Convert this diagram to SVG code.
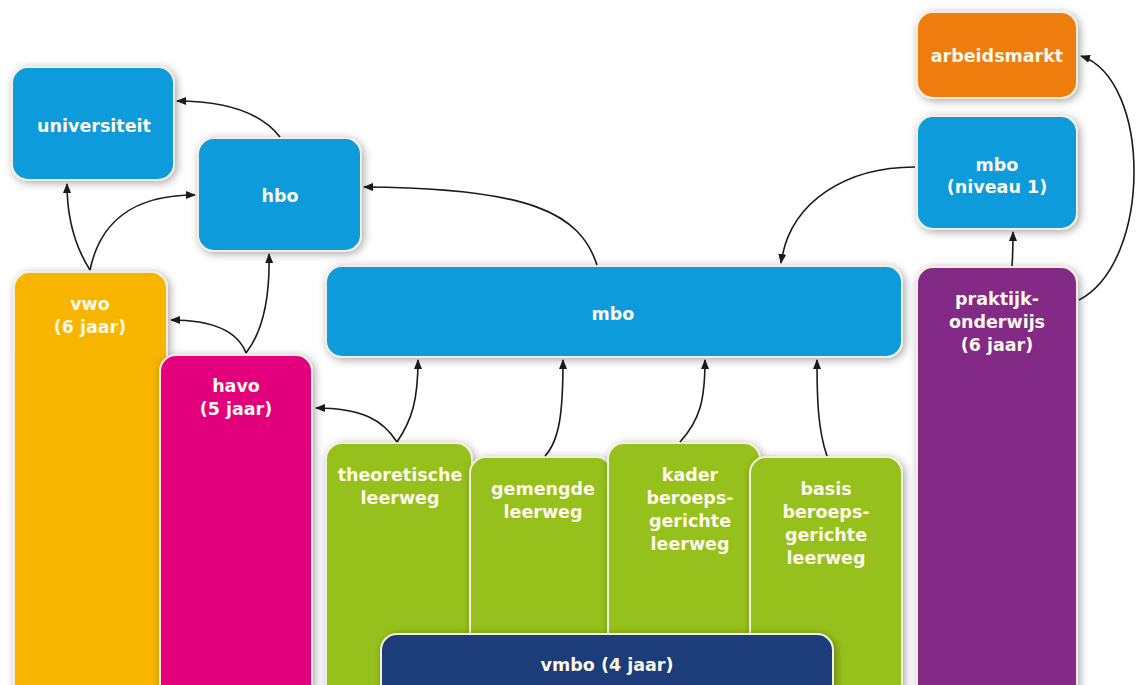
<svg xmlns="http://www.w3.org/2000/svg" width="1142" height="685" viewBox="0 0 1142 685">
<defs>
<filter id="sh" x="-20%" y="-20%" width="140%" height="140%">
<feDropShadow dx="2" dy="2" stdDeviation="4" flood-color="#000" flood-opacity="0.35"/>
</filter>
<marker id="ah" markerWidth="10" markerHeight="8" refX="9" refY="4" orient="auto" markerUnits="userSpaceOnUse">
<path d="M0,0 L10,4 L0,8 Z" fill="#1a1a1a"/>
</marker>
</defs>
<style>
.box{stroke:#f4efdc;stroke-width:2;filter:url(#sh)}
.blue{fill:#079bdc}
.orange{fill:#ee7d11}
.yellow{fill:#f7b500}
.pink{fill:#e3007b}
.purple{fill:#832a87}
.green{fill:#96c11f}
.navy{fill:#1b3d7a}
text{font-family:"DejaVu Sans",Verdana,sans-serif;font-weight:bold;font-size:17.5px;fill:#fdf8ea;text-anchor:middle}
.c path{fill:none;stroke:#1a1a1a;stroke-width:1.6;marker-end:url(#ah)}
</style>
<rect width="1142" height="685" fill="#ffffff"/>

<g id="universiteit"><rect class="box blue" x="12" y="67" width="162" height="113" rx="16"/><text x="94" y="132">universiteit</text></g>
<g id="hbo"><rect class="box blue" x="198" y="138" width="163" height="113" rx="16"/><text x="280" y="202">hbo</text></g>
<g id="arbeidsmarkt"><rect class="box orange" x="917" y="12" width="160" height="86" rx="16"/><text x="997" y="62">arbeidsmarkt</text></g>
<g id="mbo-niveau1"><rect class="box blue" x="917" y="116" width="160" height="113" rx="16"/><text x="997" y="171">mbo</text><text x="997" y="193">(niveau 1)</text></g>
<g id="mbo"><rect class="box blue" x="326" y="266" width="576" height="91" rx="16"/><text x="613" y="320">mbo</text></g>
<g id="vwo"><rect class="box yellow" x="14" y="272" width="153" height="440" rx="16"/><text x="90" y="310">vwo</text><text x="90" y="333">(6 jaar)</text></g>
<g id="havo"><rect class="box pink" x="160" y="355" width="152" height="360" rx="16"/><text x="236" y="392">havo</text><text x="236" y="415">(5 jaar)</text></g>
<g id="praktijkonderwijs"><rect class="box purple" x="917" y="267" width="160" height="450" rx="16"/><text x="997" y="305">praktijk-</text><text x="997" y="328">onderwijs</text><text x="997" y="351">(6 jaar)</text></g>
<g id="theoretische"><rect class="box green" x="326" y="443" width="146" height="270" rx="16"/><text x="400" y="481">theoretische</text><text x="400" y="504">leerweg</text></g>
<g id="gemengde"><rect class="box green" x="470" y="457" width="142" height="260" rx="16"/><text x="543" y="495">gemengde</text><text x="543" y="518">leerweg</text></g>
<g id="kader"><rect class="box green" x="608" y="443" width="152" height="270" rx="16"/><text x="690" y="481">kader</text><text x="690" y="504">beroeps-</text><text x="690" y="527">gerichte</text><text x="690" y="550">leerweg</text></g>
<g id="basis"><rect class="box green" x="750" y="457" width="152" height="260" rx="16"/><text x="826" y="495">basis</text><text x="826" y="518">beroeps-</text><text x="826" y="541">gerichte</text><text x="826" y="564">leerweg</text></g>
<g id="vmbo"><rect class="box navy" x="381" y="634" width="452" height="80" rx="16"/><text x="607" y="671">vmbo (4 jaar)</text></g>

<g id="connectors" class="c">
<path d="M280,137 C262,114 230,101 177,101"/>
<path d="M90,270 C74,245 67,215 67,184"/>
<path d="M90,270 C100,222 132,195 195,195"/>
<path d="M246,353 C238,332 215,320 171,320"/>
<path d="M246,353 C264,330 270,295 269,254"/>
<path d="M597,265 C580,213 530,188 364,187"/>
<path d="M915,167 C848,167 790,200 781,263"/>
<path d="M1012,266 C1013,252 1013,243 1013,232"/>
<path d="M1079,300 C1152,262 1152,80 1081,56"/>
<path d="M397,442 C383,420 362,408 316,408"/>
<path d="M397,442 C412,420 418,400 418,360"/>
<path d="M545,456 C560,440 563,410 563,360"/>
<path d="M680,442 C700,420 705,400 705,360"/>
<path d="M827,456 C818,430 817,400 817,360"/>
</g>
</svg>
